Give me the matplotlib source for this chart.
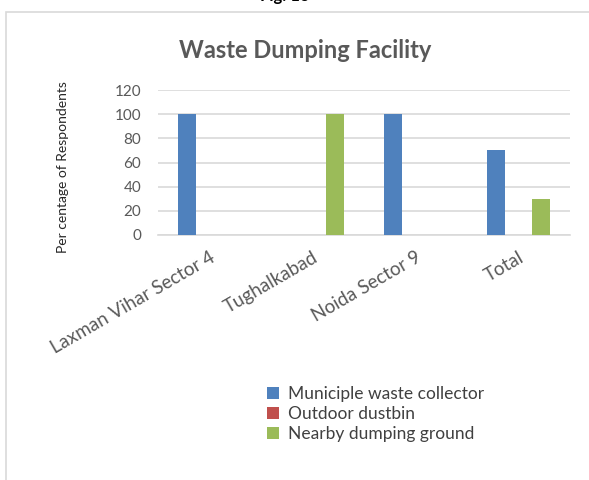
import numpy as np
import matplotlib
matplotlib.use("Agg")
import matplotlib.pyplot as plt
from matplotlib.patches import Rectangle

plt.rcParams["font.family"] = ["Lato", "DejaVu Sans"]

# ── data ──────────────────────────────────────────────────────────────────
categories = ["Laxman Vihar Sector 4", "Tughalkabad", "Noida Sector 9", "Total"]
series_names = ["Municiple waste collector", "Outdoor dustbin", "Nearby dumping ground"]
municiple = [100, 0, 100, 70]
outdoor = [0, 0, 0, 0]
nearby = [0, 100, 0, 30]
colors = ["#4F81BD", "#C0504D", "#9BBB59"]
yticks = [0, 20, 40, 60, 80, 100, 120]

# ── figure ────────────────────────────────────────────────────────────────
fig = plt.figure(figsize=(5.89, 4.8), dpi=100)
fig.patch.set_facecolor("white")

# chart frame (cut off at right / bottom, like the source)
fig.patches.append(Rectangle((6 / 589, -0.05), 1.2, 0.975 + 0.05,
                             transform=fig.transFigure, fill=False,
                             edgecolor="#D9D9D9", lw=1.2))
fig.text(0.484, 0.997, "Fig. 13", ha="center", va="baseline",
         fontsize=12, fontweight="bold", color="black")

ax = fig.add_axes([158 / 589, 1 - 235 / 480, 412 / 589, 145 / 480])
x = np.arange(len(categories))
width = 0.175
step = 0.22
for i, (vals, name) in enumerate(zip([municiple, outdoor, nearby], series_names)):
    ax.bar(x + (i - 1) * step, vals, width, color=colors[i], label=name, zorder=3)

ax.set_xlim(-0.5, len(categories) - 0.5)
ax.set_ylim(0, 120)
ax.set_yticks(yticks)
ax.yaxis.grid(True, color="#D9D9D9", lw=1.2, zorder=0)
for s in ["top", "right", "left"]:
    ax.spines[s].set_visible(False)
ax.spines["bottom"].set_color("#D9D9D9")
ax.spines["bottom"].set_linewidth(1.2)
ax.tick_params(axis="y", length=0, labelsize=11, labelcolor="#595959", pad=12)
ax.tick_params(axis="x", length=0, labelsize=13.5, labelcolor="#595959", pad=10)
ax.set_xticks(x)
ax.set_xticklabels(categories, rotation=30, ha="right", rotation_mode="anchor")

ax.set_ylabel("Per centage of Respondents", fontsize=10, color="#262626")
ax.yaxis.set_label_coords(-0.215, 0.47)

fig.text(305 / 589, 1 - 50 / 480, "Waste Dumping Facility", ha="center", va="center",
         fontsize=17, fontweight="bold", color="#595959")

leg = fig.legend(loc="upper left", bbox_to_anchor=(258 / 589, 1 - 377 / 480),
                 frameon=False, fontsize=12.5, handlelength=0.7, handleheight=0.7,
                 handletextpad=0.5, labelspacing=0.25, borderpad=0)
for t in leg.get_texts():
    t.set_color("#404040")

fig.savefig("out.png", dpi=100, facecolor=fig.get_facecolor())
